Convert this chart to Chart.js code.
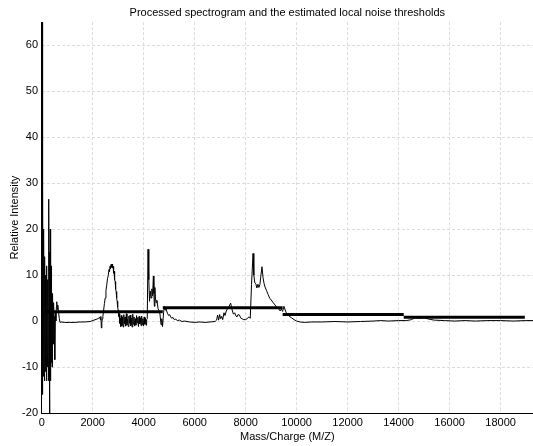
<!DOCTYPE html>
<html>
<head>
<meta charset="utf-8">
<script src="https://cdn.jsdelivr.net/npm/chart.js@4/dist/chart.umd.min.js"></script>
<style>
  body { margin: 0; background: #fff; }
  canvas { display: block; }
</style>
</head>
<body>
<canvas id="spec" width="533" height="446"></canvas>
<script>
// processed spectrum (m/z, relative intensity)
var massCharge = [
  0, 15, 25, 35, 45, 55, 65, 75, 85, 95, 105, 115, 125, 135, 145, 155, 165, 175, 185, 195,
  205, 215, 225, 235, 245, 255, 265, 275, 285, 295, 305, 315, 325, 335, 345, 355, 365, 375, 385, 395,
  405, 415, 425, 435, 445, 455, 465, 475, 485, 505, 520, 535, 555, 575, 590, 610, 630, 660, 690, 720,
  760, 900, 1100, 1300, 1500, 1700, 1900, 2050, 2200, 2280, 2300, 2320, 2340, 2360, 2380,
  2400, 2430, 2460, 2490, 2520, 2550, 2580, 2610, 2640, 2660, 2680, 2700, 2720, 2740, 2760, 2780,
  2800, 2820, 2840, 2860, 2880, 2900, 2920, 2940, 2960, 2980, 3000, 3020, 3040, 3060, 3080, 3100,
  3120, 3145, 3170, 3195, 3220, 3245, 3270, 3295, 3320, 3345, 3370, 3395, 3420, 3445, 3470, 3495,
  3520, 3545, 3570, 3595, 3620, 3645, 3670, 3695, 3720, 3745, 3770, 3795, 3820, 3845, 3870, 3895,
  3920, 3945, 3970, 3995, 4020, 4045, 4070, 4095, 4115,
  4140, 4170, 4200, 4230, 4260, 4290, 4320, 4350, 4380, 4400, 4420, 4440, 4460, 4490, 4520, 4560,
  4600, 4640, 4680, 4710, 4740, 4780, 4810, 4840, 4870, 4900, 4940, 4980, 5020, 5060, 5100, 5150,
  5200, 5260, 5320, 5400, 5500, 5600, 5800, 6000, 6200, 6400, 6600, 6800, 6860, 6900, 6940, 6980,
  7020, 7060, 7100, 7150, 7190, 7240, 7300, 7350, 7410, 7440, 7470, 7520, 7570, 7620, 7660, 7700,
  7760, 7800, 7860, 7930, 7990, 8060, 8120, 8180, 8230, 8290, 8320, 8360, 8400, 8440, 8480, 8520,
  8560, 8600, 8640, 8680, 8720, 8760, 8820, 8880, 8940, 9000, 9080, 9150, 9220, 9290, 9350, 9400,
  9450, 9500, 9550, 9600, 9700, 9800, 9900, 10000, 10130, 10300, 10600, 11000, 11500, 12000, 12500, 13000,
  13300, 13600, 14000, 14300, 14500, 14640, 14800, 15000, 15200, 15400, 15800, 16200, 16600, 17000, 17500, 18000,
  18500, 19000, 19300
];
var intensity = [
  -3, 40, 68, -16, 30, -12, 12, -5, 20, -10, 8, -13, 14, -4, 10, -11, 6, -2, 12, -13,
  3, -6, 9, -10, 5, -8, 18, -13, 26.5, -5, -22, 15, -12, 20, -13, 8, -9, 12, -6, 7,
  -10, 4, -3, 6, -5, 3, -2, 4, 1, -2, -8.4, 2, 0, 3, 4.2, 2.5, 3.5, 2, 0.5, -0.3,
  -0.2, -0.3, -0.3, -0.3, -0.2, -0.2, -0.1, 0.2, 0.5, 0.8, 0.3, 1.0, -1.5, -0.2, 0.5,
  1.0, 2.4, 3.8, 5.0, 6.6, 7.8, 9.2, 9.9, 11.2, 10.8, 11.9, 11.4, 12.3, 11.7, 12.4, 11.6,
  11.9, 10.4, 10.8, 9.0, 8.6, 7.0, 6.4, 5.0, 4.3, 3.0, 2.4, 1.0, 1.6, -0.5, 0.6, -1.2,
  1.2, -1.0, 0.8, -1.3, 1.4, -0.6, 0.9, -1.1, 1.6, -0.8, 0.4, -1.2, 1.1, -0.5, 1.3, -1.0,
  0.6, -1.3, 1.5, -0.7, 0.9, -1.1, 0.5, -0.9, 1.2, -0.4, 0.8, -1.2, 1.0, -0.6, 0.7, -1.0,
  1.1, -0.8, 0.5, -1.1, 0.9, -0.7, 0.6, -0.9, 0.3,
  0.5, 15.6, 9, 4.3, 6.5, 5, 7, 5.5, 9.8, 6, 3.2, 7.3, 5, 4, 4.5, 2.8,
  2.2, 1.5, -0.8, 0.5, -1.2, 1.8, 3.2, 2.4, 3.0, 2.2, 1.6, 1.2, 1.4, 0.9, 0.6, 0.8,
  0.3, 0.4, 0.1, 0.2, -0.1, 0.0, -0.2, -0.3, -0.2, -0.3, -0.2, -0.1, 0.2, 1.3, 0.2, 1.4,
  0.5, 1.0, 0.3, 1.8, 1.2, 2.2, 2.8, 3.2, 3.9, 3.2, 2.4, 1.5, 1.8, 1.1, 0.9, 1.4,
  1.3, 0.7, 0.5, 0.3, 0.3, 0.5, 0.9, 0.6, 8, 14.7, 10, 8.3, 8.1, 7.2, 8.0, 7.3,
  8, 10, 11.8, 9.5, 8.2, 7.4, 6.6, 5.8, 5.0, 4.6, 4.0, 3.5, 3.0, 2.7, 2.2, 2.6,
  2.1, 3.2, 2.4, 1.7, 1.1, 0.7, 0.3, 0.0, -0.2, -0.3, -0.2, -0.2, -0.1, -0.2, -0.1, 0.0,
  0.1, 0.0, 0.1, 0.1, 0.3, 0.7, 0.6, 0.7, 0.4, 0.2, 0.1, 0.0, 0.1, 0.0, 0.1, 0.1,
  0.0, 0.1, 0.1
];

// estimated local noise thresholds (one level per window)
var thrStart = [200, 4750, 9450, 14200];
var thrEnd   = [4750, 9450, 14200, 18950];
var thrLevel = [2.0, 2.9, 1.4, 0.8];

var xTicks = [0, 2000, 4000, 6000, 8000, 10000, 12000, 14000, 16000, 18000];
var yTicks = [-20, -10, 0, 10, 20, 30, 40, 50, 60];

var FONT = { family: "'Liberation Sans', Arial, sans-serif", size: 11 };

var signalPts = massCharge.map(function(m, i) {
  return { x: m, y: intensity[i] };
});

var thrPts = [];
for (var i = 0; i < thrLevel.length; i++) {
  thrPts.push({ x: thrStart[i], y: thrLevel[i] });
  thrPts.push({ x: thrEnd[i], y: thrLevel[i] });
  if (i < thrLevel.length - 1)
    thrPts.push({ x: thrEnd[i], y: null });
}

function fixedTicks(list) {
  return function(scale) {
    scale.ticks = list.map(function(v) { return { value: v }; });
  };
}

function plain(v) {
  return String(v);
}

new Chart(document.getElementById('spec').getContext('2d'), {
  type: 'scatter',
  data: {
    datasets: [{
      data: signalPts,
      showLine: true,
      borderColor: '#000',
      borderWidth: 1,
      pointRadius: 0,
      tension: 0
    }, {
      data: thrPts,
      showLine: true,
      spanGaps: false,
      borderColor: '#000',
      borderWidth: 3,
      pointRadius: 0,
      tension: 0
    }]
  },
  options: {
    responsive: false,
    animation: false,
    layout: { padding: 0 },
    plugins: {
      legend: { display: false },
      tooltip: { enabled: false },
      title: {
        display: true,
        fullSize: false,
        text: 'Processed spectrogram and the estimated local noise thresholds',
        color: '#000',
        font: { family: FONT.family, size: 11, weight: 'normal' },
        padding: { top: 6, bottom: 3 }
      }
    },
    scales: {
      x: {
        type: 'linear',
        min: 0,
        max: 19270,
        afterBuildTicks: fixedTicks(xTicks),
        afterFit: function(scale) { scale.height = 33; },
        grid: { color: '#dcdcdc', drawTicks: false },
        border: { display: true, color: '#000', width: 1, dash: [3, 2] },
        ticks: { color: '#000', font: FONT, padding: 3, maxRotation: 0, callback: plain },
        title: {
          display: true,
          text: 'Mass/Charge (M/Z)',
          color: '#000',
          font: FONT,
          padding: { top: 0, bottom: 2.7 }
        }
      },
      y: {
        type: 'linear',
        min: -20,
        max: 65,
        afterBuildTicks: fixedTicks(yTicks),
        afterFit: function(scale) { scale.width = 41.7; },
        grid: { color: '#dcdcdc', drawTicks: false },
        border: { display: true, color: '#000', width: 1, dash: [3, 2] },
        ticks: { color: '#000', font: FONT, padding: 3.7, callback: plain },
        title: {
          display: true,
          text: 'Relative Intensity',
          color: '#000',
          font: FONT,
          padding: { top: 8.4, bottom: 0 }
        }
      }
    }
  }
});
</script>
</body>
</html>
